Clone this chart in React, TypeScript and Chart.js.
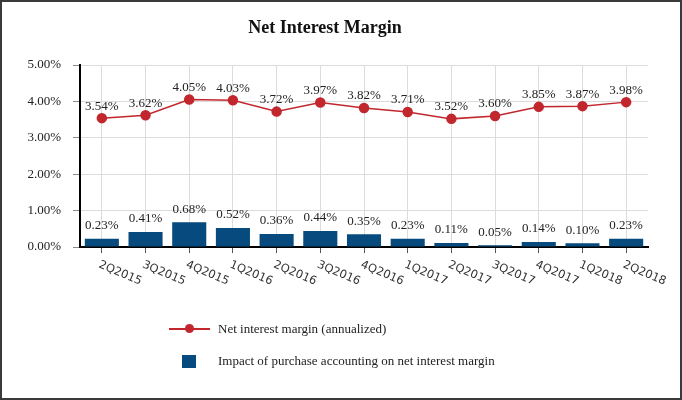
import React, { useEffect, useRef } from "react";
import { Chart, registerables } from "chart.js";

Chart.register(...registerables);

const categories = ["2Q2015","3Q2015","4Q2015","1Q2016","2Q2016","3Q2016","4Q2016","1Q2017","2Q2017","3Q2017","4Q2017","1Q2018","2Q2018"];
const netInterestMargin = [3.54,3.62,4.05,4.03,3.72,3.97,3.82,3.71,3.52,3.60,3.85,3.87,3.98];
const purchaseAccounting = [0.23,0.41,0.68,0.52,0.36,0.44,0.35,0.23,0.11,0.05,0.14,0.10,0.23];
const yTicks = [0, 1, 2, 3, 4, 5];

const SERIF = '"Liberation Serif", "Times New Roman", Times, serif';
const RED = "#c1272d";
const BLUE = "#074a7e";

const labelsPlugin = {
  id: "customLabels",
  afterDatasetsDraw(chart: any) {
    const ctx = chart.ctx;
    ctx.save();
    ctx.font = `13px ${SERIF}`;
    ctx.fillStyle = "#222";
    ctx.textAlign = "center";
    ctx.textBaseline = "middle";
    chart.data.datasets.forEach((ds: any, di: number) => {
      const meta = chart.getDatasetMeta(di);
      meta.data.forEach((el: any, i: number) => {
        const v = ds.data[i];
        const off = ds.type === "line" ? 12 : 13;
        ctx.fillText(v.toFixed(2) + "%", el.x, el.y - off);
      });
    });
    ctx.restore();
  },
  afterDraw(chart: any) {
    const ctx = chart.ctx;
    const xs = chart.scales.x;
    ctx.save();
    ctx.font = `11.5px "DejaVu Sans", sans-serif`;
    ctx.fillStyle = "#333";
    ctx.textAlign = "left";
    ctx.textBaseline = "top";
    chart.data.labels.forEach((lab: string, i: number) => {
      const px = xs.getPixelForTick(i);
      ctx.save();
      ctx.translate(px - 0.5, chart.chartArea.bottom + 12);
      ctx.rotate((23 * Math.PI) / 180);
      ctx.fillText(lab, 0, 0);
      ctx.restore();
    });
    ctx.restore();
  },
};

export default function App() {
  const ref = useRef<HTMLCanvasElement>(null);
  useEffect(() => {
    document.body.style.margin = "0";
    const chart = new Chart(ref.current as HTMLCanvasElement, {
      type: "bar",
      data: {
        labels: categories,
        datasets: [
          {
            type: "line",
            label: "Net interest margin (annualized)",
            data: netInterestMargin,
            borderColor: RED,
            backgroundColor: RED,
            borderWidth: 1.5,
            pointRadius: 4.5,
            pointBackgroundColor: RED,
            pointBorderColor: RED,
            tension: 0,
            order: 0,
          } as any,
          {
            type: "bar",
            label: "Impact of purchase accounting on net interest margin",
            data: purchaseAccounting,
            backgroundColor: BLUE,
            barPercentage: 0.78,
            categoryPercentage: 1,
            order: 1,
          },
        ],
      },
      options: {
        responsive: false,
        animation: false,
        layout: { padding: { left: 0, right: 32, top: 0, bottom: 0 } },
        plugins: {
          legend: { display: false },
          tooltip: { enabled: false },
          title: {
            display: true,
            text: "Net Interest Margin",
            color: "#111",
            font: { family: SERIF, size: 18, weight: "bold", lineHeight: 1.2 },
            padding: { top: 15.6, bottom: 25.8 },
          },
        },
        scales: {
          x: {
            offset: true,
            grid: {
              offset: false,
              color: "#dcdcdc",
              tickColor: "#555",
              tickLength: 6,
              drawTicks: true,
            },
            border: { display: true, color: "#000", width: 2 },
            ticks: { display: false },
            afterFit(scale: any) {
              scale.height = 151;
            },
          },
          y: {
            min: 0,
            max: 5,
            afterBuildTicks(scale: any) {
              scale.ticks = yTicks.map((v) => ({ value: v }));
            },
            grid: { color: "#dcdcdc", tickColor: "#888", tickLength: 7 },
            border: { display: true, color: "#000", width: 2 },
            ticks: {
              padding: 12,
              color: "#222",
              font: { family: SERIF, size: 13 },
              callback: (v: any) => Number(v).toFixed(2) + "%",
            },
            afterFit(scale: any) {
              scale.width = 78;
            },
          },
        },
      },
      plugins: [labelsPlugin],
    });
    return () => chart.destroy();
  }, []);

  const textStyle: React.CSSProperties = {
    position: "absolute",
    fontFamily: SERIF,
    fontSize: 13,
    lineHeight: "16px",
    color: "#222",
    whiteSpace: "nowrap",
  };

  return (
    <div
      style={{
        position: "absolute",
        left: 0,
        top: 0,
        width: 682,
        height: 400,
        boxSizing: "border-box",
        border: "2px solid #3a3a3a",
        background: "#fff",
      }}
    >
      <canvas ref={ref} width={678} height={396} style={{ position: "absolute", left: 0, top: 0 }} />
      <div style={{ position: "absolute", left: 167, top: 325.5, width: 41, height: 2, background: RED }} />
      <div style={{ position: "absolute", left: 183, top: 322, width: 9, height: 9, borderRadius: "50%", background: RED }} />
      <div style={{ position: "absolute", left: 180, top: 353, width: 14, height: 13, background: BLUE }} />
      <div style={{ ...textStyle, left: 216, top: 318.5 }}>Net interest margin (annualized)</div>
      <div style={{ ...textStyle, left: 216, top: 351 }}>Impact of purchase accounting on net interest margin</div>
    </div>
  );
}
